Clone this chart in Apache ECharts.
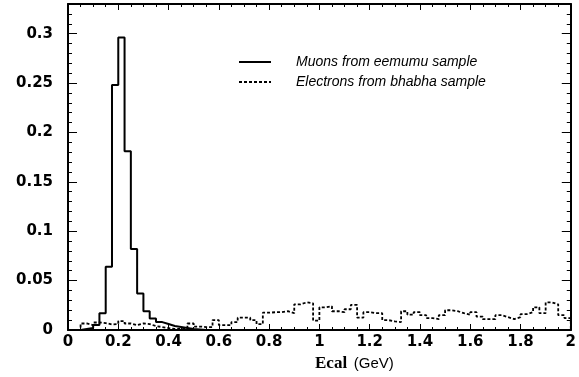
<!DOCTYPE html>
<html>
<head>
<meta charset="utf-8">
<script src="https://cdn.jsdelivr.net/npm/echarts@6/dist/echarts.min.js"></script>
<style>html,body{margin:0;padding:0;background:#fff;}#c{width:579px;height:377px;}</style>
</head>
<body>
<div id="c"></div>
<script>
// Histogram binning (GeV)
const binWidth = 0.025;
const xMin = 0, xMax = 2, xMajor = 0.2, xMinor = 0.05;
const yMin = 0, yMax = 0.33, yMajor = 0.05, yMinor = 0.01;

const seriesNames = ['Muons from eemumu sample', 'Electrons from bhabha sample'];

// Muons (solid), bin contents starting at 0 GeV
const muons = [0, 0, 0.001, 0.002, 0.005, 0.017, 0.064, 0.248, 0.296, 0.181,
  0.082, 0.037, 0.019, 0.0116, 0.008, 0.006, 0.004, 0.003, 0.002, 0.001,
  0.0005, 0];

// Electrons (dashed), bin contents starting at 0 GeV
const electrons = [0, 0, 0.0066, 0.005, 0.0076, 0.007, 0.0056, 0.006, 0.009, 0.0066,
  0.005, 0.0066, 0.006, 0.004, 0.003, 0.002, 0.001, 0.001, 0.0015, 0.0066,
  0.0035, 0.003, 0.003, 0.01, 0.005, 0.005, 0.008, 0.0125, 0.0125, 0.01,
  0.006, 0.0175, 0.018, 0.018, 0.019, 0.017, 0.026, 0.028, 0.027, 0.0095,
  0.023, 0.024, 0.019, 0.018, 0.021, 0.0254, 0.0125, 0.018, 0.017, 0.017,
  0.01, 0.0087, 0.008, 0.019, 0.0155, 0.018, 0.015, 0.012, 0.011, 0.015,
  0.020, 0.019, 0.017, 0.0155, 0.018, 0.0135, 0.011, 0.011, 0.015, 0.013,
  0.011, 0.013, 0.016, 0.018, 0.023, 0.017, 0.028, 0.026, 0.015, 0.012];

function histPoints(vals) {
  const pts = vals.map((v, i) => [+(i * binWidth).toFixed(4), v]);
  pts.push([+(vals.length * binWidth).toFixed(4), 0]);
  return pts;
}

const labelFont = { fontFamily: 'DejaVu Sans', fontWeight: 'bold', fontSize: 15, color: '#000' };
const lineCol = '#000';

function xAxisDef(pos, showLabels) {
  return {
    type: 'value', position: pos, min: xMin, max: xMax, interval: xMajor,
    axisLine: { show: true, onZero: false, lineStyle: { color: lineCol, width: 2 } },
    axisTick: { show: true, inside: true, length: 6, lineStyle: { color: lineCol, width: 1 } },
    minorTick: { show: true, splitNumber: Math.round(xMajor / xMinor), length: 3, lineStyle: { color: lineCol, width: 1 } },
    splitLine: { show: false },
    axisLabel: Object.assign({ show: showLabels, margin: 5 }, labelFont),
    name: showLabels ? '{b|Ecal}  {r|(GeV)}' : '',
    nameLocation: 'middle', nameGap: 25,
    nameTextStyle: {
      padding: [0, 0, 0, 70],
      rich: {
        b: { fontFamily: 'Liberation Serif', fontWeight: 'bold', fontSize: 17, color: '#000' },
        r: { fontFamily: 'Liberation Sans', fontSize: 15, color: '#000' }
      }
    }
  };
}
function yAxisDef(pos, major, showLabels) {
  return {
    type: 'value', position: pos, min: yMin, max: yMax,
    interval: major ? yMajor : yMinor,
    axisLine: { show: major, onZero: false, lineStyle: { color: lineCol, width: 2 } },
    axisTick: { show: true, inside: true, length: major ? 9 : 4, lineStyle: { color: lineCol, width: 1 } },
    splitLine: { show: false },
    axisLabel: Object.assign({ show: showLabels, margin: 15, showMaxLabel: false }, labelFont)
  };
}

const chart = echarts.init(document.getElementById('c'));
chart.setOption({
  animation: false,
  backgroundColor: '#fff',
  grid: { left: 68, right: 3, top: 4, bottom: 40, containLabel: false },
  legend: {
    orient: 'vertical', left: 238, top: 55, padding: 0,
    itemWidth: 32, itemHeight: 14, itemGap: 6,
    data: seriesNames,
    itemStyle: { opacity: 0 },
    textStyle: { fontFamily: 'Liberation Sans', fontStyle: 'italic', fontSize: 14, color: '#000', padding: [0, 0, 0, 20] }
  },
  xAxis: [xAxisDef('bottom', true), xAxisDef('top', false)],
  yAxis: [yAxisDef('left', true, true), yAxisDef('left', false, false),
          yAxisDef('right', true, false), yAxisDef('right', false, false)],
  series: [
    {
      name: seriesNames[0], type: 'line', step: 'end', symbol: 'none',
      xAxisIndex: 0, yAxisIndex: 0,
      data: histPoints(muons),
      lineStyle: { color: '#000', width: 2 }, itemStyle: { color: '#000' }
    },
    {
      name: seriesNames[1], type: 'line', step: 'end', symbol: 'none',
      xAxisIndex: 0, yAxisIndex: 0,
      data: histPoints(electrons),
      lineStyle: { color: '#000', width: 1.8, type: [3, 2] }, itemStyle: { color: '#000' }
    }
  ]
});
</script>
</body>
</html>
